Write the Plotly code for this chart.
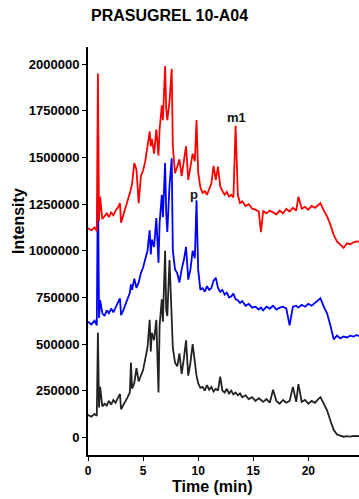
import plotly.graph_objects as go

time_min = [0, 0.3, 0.6, 0.8, 0.9, 1.0, 1.1, 1.3, 1.5, 1.7, 1.9, 2.1, 2.3, 2.5, 2.7, 2.9, 3.0, 3.2, 3.4, 3.6,
            3.8, 3.9, 4.0, 4.2, 4.4, 4.6, 4.8, 5.0, 5.2, 5.4, 5.6, 5.7, 5.8, 6.0, 6.2, 6.3, 6.4, 6.5, 6.7, 6.8,
            7.0, 7.1, 7.2, 7.4, 7.6, 7.7, 7.9, 8.1, 8.3, 8.5, 8.7, 8.9, 9.1, 9.3, 9.5, 9.7, 9.85, 10.0, 10.2, 10.4,
            10.6, 10.8, 11.0, 11.2, 11.4, 11.6, 11.8, 12.0, 12.2, 12.4, 12.6, 12.8, 13.0, 13.2, 13.4, 13.6, 13.8, 14.0, 14.3, 14.6,
            14.9, 15.2, 15.5, 15.7, 15.9, 16.2, 16.5, 16.8, 17.1, 17.4, 17.7, 18.0, 18.3, 18.6, 18.9, 19.1, 19.4, 19.7, 20.0, 20.3,
            20.6, 20.9, 21.1, 21.4, 21.7, 22.0, 22.3, 22.6, 22.9, 23.2, 23.5, 23.8, 24.1, 24.4, 24.6]

black_series = [120000, 110000, 125000, 115000, 560000, 160000, 270000, 165000, 180000, 170000,
                195000, 175000, 200000, 185000, 210000, 232000, 150000, 170000, 190000, 215000,
                240000, 400000, 260000, 290000, 370000, 300000, 330000, 360000, 420000, 480000,
                630000, 460000, 560000, 520000, 630000, 480000, 240000, 600000, 740000, 620000,
                1000000, 680000, 650000, 950000, 560000, 480000, 400000, 380000, 450000, 340000,
                420000, 520000, 330000, 400000, 500000, 380000, 330000, 290000, 265000, 270000,
                250000, 280000, 255000, 270000, 245000, 260000, 250000, 325000, 250000, 240000,
                260000, 235000, 250000, 230000, 240000, 225000, 235000, 215000, 225000, 205000,
                215000, 195000, 210000, 200000, 190000, 205000, 185000, 255000, 195000, 180000,
                200000, 185000, 195000, 270000, 190000, 285000, 190000, 200000, 180000, 195000,
                185000, 205000, 215000, 180000, 145000, 90000, 40000, 15000, 8000, 3000,
                6000, 4000, 7000, 5000, 6000]

blue_series = [620000, 605000, 625000, 600000, 1395000, 640000, 735000, 665000, 650000, 680000,
               665000, 690000, 670000, 700000, 720000, 745000, 655000, 680000, 710000, 740000,
               775000, 820000, 790000, 850000, 800000, 830000, 880000, 910000, 950000, 1000000,
               1110000, 980000, 1060000, 1020000, 1175000, 1050000, 935000, 1150000, 1300000, 1180000,
               1470000, 1200000, 1100000, 1350000, 1495000, 1000000, 900000, 880000, 830000, 900000,
               950000, 1020000, 845000, 900000, 1000000, 960000, 1270000, 900000, 790000, 800000,
               780000, 810000, 790000, 800000, 840000, 855000, 800000, 780000, 790000, 765000,
               775000, 750000, 755000, 770000, 740000, 735000, 720000, 730000, 705000, 715000,
               695000, 700000, 685000, 695000, 680000, 700000, 690000, 705000, 685000, 695000,
               700000, 690000, 600000, 700000, 705000, 695000, 710000, 700000, 715000, 705000,
               720000, 730000, 745000, 700000, 665000, 600000, 525000, 545000, 530000, 540000,
               535000, 545000, 540000, 548000, 542000]

red_series = [1120000, 1110000, 1125000, 1105000, 1950000, 1160000, 1290000, 1170000, 1185000, 1200000,
              1180000, 1205000, 1190000, 1215000, 1230000, 1255000, 1150000, 1190000, 1220000, 1260000,
              1300000, 1330000, 1360000, 1470000, 1435000, 1255000, 1400000, 1430000, 1480000, 1560000,
              1640000, 1560000, 1600000, 1520000, 1650000, 1580000, 1510000, 1650000, 1780000, 1700000,
              1990000, 1760000, 1700000, 1800000, 1975000, 1560000, 1415000, 1450000, 1490000, 1400000,
              1470000, 1560000, 1380000, 1450000, 1520000, 1480000, 1700000, 1420000, 1340000, 1310000,
              1320000, 1300000, 1330000, 1360000, 1455000, 1380000, 1450000, 1345000, 1320000, 1300000,
              1315000, 1290000, 1300000, 1285000, 1670000, 1300000, 1255000, 1265000, 1240000, 1250000,
              1225000, 1220000, 1210000, 1100000, 1215000, 1200000, 1215000, 1205000, 1195000, 1215000,
              1200000, 1225000, 1210000, 1230000, 1215000, 1290000, 1225000, 1235000, 1220000, 1240000,
              1230000, 1245000, 1255000, 1215000, 1185000, 1140000, 1085000, 1050000, 1030000, 1015000,
              1040000, 1035000, 1045000, 1050000, 1049000]

y_tick_values = [0, 250000, 500000, 750000, 1000000, 1250000, 1500000, 1750000, 2000000]
y_tick_labels = ["0", "250000", "500000", "750000", "1000000", "1250000", "1500000", "1750000", "2000000"]
x_tick_values = [0, 5, 10, 15, 20]

peak_labels = ["m1", "p"]
peak_times = [13.5, 9.6]
peak_heights = [1712000, 1299000]

FONT = "Liberation Sans, Arial, sans-serif"
W, H = 359, 499
pl, pr, pt, pb = 88, 0, 47, 44
pw, ph = W - pl - pr, H - pt - pb


def px2paper(x, y):
    return (x - pl) / pw, (H - pb - y) / ph


fig = go.Figure()
for ys, col in [(black_series, "#222222"), (blue_series, "#0000ff"), (red_series, "#ff0000")]:
    fig.add_trace(go.Scatter(x=time_min, y=ys, mode="lines",
                             line=dict(color=col, width=1.8), showlegend=False, hoverinfo="skip"))

for lab, tx, hy in zip(peak_labels, peak_times, peak_heights):
    fig.add_annotation(x=tx, y=hy, text=lab, showarrow=False, xref="x", yref="y",
                       font=dict(family=FONT, size=13, color="#111111", weight="bold"))

tx, ty = px2paper(169, 15)
fig.add_annotation(text="PRASUGREL 10-A04", x=tx, y=ty, xref="paper", yref="paper", showarrow=False,
                   xanchor="center", yanchor="middle",
                   font=dict(family=FONT, size=16, color="#000000", weight="bold"))
ix, iy = px2paper(18, 221)
fig.add_annotation(text="Intensity", x=ix, y=iy, xref="paper", yref="paper", showarrow=False,
                   textangle=-90, xanchor="center", yanchor="middle",
                   font=dict(family=FONT, size=16, color="#000000", weight="bold"))
mx, my = px2paper(212, 486)
fig.add_annotation(text="Time (min)", x=mx, y=my, xref="paper", yref="paper", showarrow=False,
                   xanchor="center", yanchor="middle",
                   font=dict(family=FONT, size=16, color="#000000", weight="bold"))

fig.update_layout(
    width=W, height=H,
    margin=dict(l=pl, r=pr, t=pt, b=pb),
    paper_bgcolor="white", plot_bgcolor="white",
    showlegend=False,
)

fig.update_xaxes(range=[0, 24.6], tickvals=x_tick_values, ticks="outside", ticklen=4, tickwidth=1,
                 tickcolor="black", showline=True, linecolor="black", linewidth=2, showgrid=False,
                 zeroline=False, tickfont=dict(family=FONT, size=12, color="black", weight="bold"))
fig.update_yaxes(range=[-95000, 2092000], tickvals=y_tick_values, ticktext=y_tick_labels, ticks="outside",
                 ticklen=4, tickwidth=1, tickcolor="black", showline=True, linecolor="black", linewidth=2,
                 showgrid=False, zeroline=False,
                 tickfont=dict(family=FONT, size=13, color="black", weight="bold"))

fig.write_html("out.html", config={"displayModeBar": False},
               post_script="document.body.style.margin='0';document.body.style.padding='0';")
